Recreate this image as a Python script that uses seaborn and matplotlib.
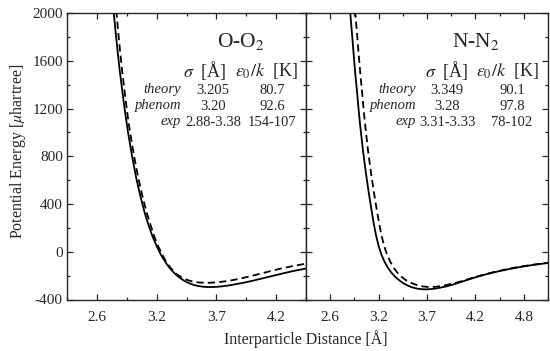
import numpy as np
import pandas as pd
import matplotlib
matplotlib.use("Agg")
import matplotlib.pyplot as plt
from matplotlib.ticker import FixedLocator, MultipleLocator
import seaborn as sns

# ---------------- data (x in Angstrom, energy in micro-hartree) ----------------
oo_solid_x = [2.738, 2.775, 2.794, 2.812, 2.830, 2.848, 2.867, 2.885, 2.903, 2.921,
              2.958, 2.994, 3.031, 3.067, 3.104, 3.140, 3.177, 3.213, 3.250, 3.286,
              3.323, 3.359, 3.396, 3.432, 3.469, 3.505, 3.542, 3.578, 3.615, 3.651,
              3.706, 3.761, 3.816, 3.870, 3.943, 4.016, 4.108, 4.199, 4.291, 4.382,
              4.491, 4.601]
oo_solid_y = [2619, 2200, 2013, 1836, 1672, 1518, 1376, 1244, 1120, 1004,
              798, 619, 466, 334, 221, 125, 44, -25, -83, -131,
              -171, -203, -229, -250, -266, -278, -287, -292, -295, -296,
              -294, -289, -282, -273, -260, -245, -224, -203, -182, -162,
              -142, -124]
oo_dash_x = [2.764, 2.800, 2.818, 2.835, 2.852, 2.869, 2.887, 2.904, 2.921, 2.939,
             2.976, 3.012, 3.049, 3.085, 3.122, 3.157, 3.192, 3.228, 3.262, 3.297,
             3.332, 3.368, 3.405, 3.442, 3.480, 3.518, 3.556, 3.595, 3.635, 3.680,
             3.730, 3.780, 3.835, 3.895, 3.960, 4.030, 4.110, 4.200, 4.290, 4.390,
             4.498, 4.600]
oo_dash_y = [2619, 2200, 2013, 1836, 1672, 1518, 1376, 1244, 1120, 1004,
             798, 619, 466, 334, 221, 120, 40, -30, -88, -133,
             -170, -198, -219, -235, -246, -254, -258, -260, -260, -258,
             -254, -248, -240, -229, -215, -199, -180, -158, -138, -118,
             -100, -84]

nn_solid_x = [2.796, 2.833, 2.852, 2.870, 2.889, 2.906, 2.923, 2.941, 2.956, 2.972,
              3.004, 3.036, 3.067, 3.096, 3.122, 3.148, 3.176, 3.207, 3.243, 3.282,
              3.322, 3.365, 3.408, 3.450, 3.493, 3.534, 3.575, 3.614, 3.652, 3.688,
              3.744, 3.799, 3.854, 3.910, 3.983, 4.057, 4.149, 4.242, 4.334, 4.426,
              4.537, 4.647, 4.758, 4.869, 5.016, 5.164]
nn_solid_y = [2787, 2341, 2142, 1954, 1780, 1616, 1465, 1324, 1192, 1068,
              849, 659, 496, 355, 235, 133, 46, -27, -89, -140,
              -182, -216, -244, -266, -283, -296, -305, -311, -314, -315,
              -313, -308, -300, -291, -276, -258, -235, -212, -192, -174,
              -155, -138, -123, -110, -95, -81]
nn_dash_x = [2.851, 2.888, 2.907, 2.925, 2.944, 2.961, 2.978, 2.996, 3.011, 3.027,
             3.059, 3.092, 3.124, 3.154, 3.181, 3.208, 3.236, 3.268, 3.303, 3.341,
             3.381, 3.424, 3.468, 3.513, 3.559, 3.606, 3.654, 3.703, 3.752, 3.800,
             3.850, 3.910, 3.983, 4.057, 4.149, 4.242, 4.334, 4.426, 4.537, 4.647,
             4.758, 4.869, 5.016, 5.164]
nn_dash_y = [2787, 2341, 2142, 1954, 1780, 1616, 1465, 1324, 1192, 1068,
             849, 659, 496, 355, 235, 133, 46, -25, -85, -135,
             -176, -209, -235, -255, -270, -282, -290, -294, -295, -293,
             -288, -280, -267, -252, -231, -209, -190, -172, -153, -136,
             -121, -108, -93, -80]

# ticks at integer (major) and half-integer (minor) bohr, labelled in Angstrom
left_tick_pos = [2.646, 3.175, 3.704, 4.233]
left_tick_lab = ["2.6", "3.2", "3.7", "4.2"]
left_minor = [2.381, 2.910, 3.440, 3.969, 4.498]
right_tick_pos = [2.646, 3.175, 3.704, 4.233, 4.763]
right_tick_lab = ["2.6", "3.2", "3.7", "4.2", "4.8"]
right_minor = [2.381, 2.910, 3.440, 3.969, 4.498, 5.027]
left_xlim = (2.381, 4.498)
right_xlim = (2.381, 5.027)

row_labels = ["theory", "phenom", "exp"]
oo_sigma = ["3.205", "3.20", "2.88-3.38"]
oo_eps = ["80.7", "92.6", "154-107"]
nn_sigma = ["3.349", "3.28", "3.31-3.33"]
nn_eps = ["90.1", "97.8", "78-102"]

# ---------------- style ----------------
sns.set_style("ticks")
plt.rcParams["font.family"] = ["Liberation Serif", "DejaVu Serif"]
plt.rcParams["mathtext.fontset"] = "stix"
plt.rcParams["axes.unicode_minus"] = False
plt.rcParams["xtick.direction"] = "in"
plt.rcParams["ytick.direction"] = "in"

fig = plt.figure(figsize=(5.5, 3.51), dpi=100)
W, H = 550, 351
ax1 = fig.add_axes([67 / W, 1 - 299.5 / H, 239 / W, 286.5 / H])
ax2 = fig.add_axes([306 / W, 1 - 299.5 / H, 242 / W, 286.5 / H])

dash = (0, (4.0, 2.3))

def draw(ax, sx, sy, dx, dy):
    sns.lineplot(x=sx, y=sy, ax=ax, color="black", lw=1.3, estimator=None, sort=False)
    sns.lineplot(x=dx, y=dy, ax=ax, color="black", lw=1.3, estimator=None, sort=False,
                 linestyle=dash)

draw(ax1, oo_solid_x, oo_solid_y, oo_dash_x, oo_dash_y)
draw(ax2, nn_solid_x, nn_solid_y, nn_dash_x, nn_dash_y)

for ax, xl, tp, tl, mn in [(ax1, left_xlim, left_tick_pos, left_tick_lab, left_minor),
                           (ax2, right_xlim, right_tick_pos, right_tick_lab, right_minor)]:
    ax.set_xlim(*xl)
    ax.set_ylim(-400, 2000)
    ax.xaxis.set_major_locator(FixedLocator(tp))
    ax.set_xticklabels(tl)
    ax.xaxis.set_minor_locator(FixedLocator(mn))
    ax.yaxis.set_major_locator(MultipleLocator(400))
    ax.yaxis.set_minor_locator(MultipleLocator(200))
    ax.tick_params(which="both", top=True, right=True, bottom=True, left=True,
                   direction="in", width=0.9, labelsize=11)
    ax.tick_params(axis="x", which="both", pad=8)
    ax.tick_params(axis="y", which="both", pad=3)
    ax.tick_params(which="major", length=4.5)
    ax.tick_params(which="minor", length=2.5)
    ax.set_xlabel("")
    ax.set_ylabel("")
    for s in ax.spines.values():
        s.set_linewidth(1.0)
        s.set_visible(True)

ax2.tick_params(labelleft=False)

def at(px, py, s, **kw):
    fig.text(px / W, 1 - py / H, s, **kw)

at(18, 151, r"Potential Energy [$\mu$hartree]", rotation=90, ha="center", va="center",
   fontsize=11.5)
at(306, 339, "Interparticle Distance [Å]", ha="center", va="center", fontsize=11.5)

def table(title, tx, hx1, hx2, lx, cx1, cx2, sig, eps):
    at(tx, 42, title, ha="center", va="center", fontsize=15.5)
    at(hx1, 71, r"$\sigma$  [Å]", ha="center", va="center", fontsize=13)
    at(hx2, 71, r"$\varepsilon_0/k$  [K]", ha="center", va="center", fontsize=13)
    for i, (lab, s, e) in enumerate(zip(row_labels, sig, eps)):
        y = 90 + i * 16
        at(lx, y, lab, ha="right", va="center", fontsize=10.5, style="italic")
        at(cx1, y, s, ha="center", va="center", fontsize=10.5)
        at(cx2, y, e, ha="center", va="center", fontsize=10.5)

table(r"O-O$_2$", 241, 205, 266, 181, 213, 272, oo_sigma, oo_eps)
table(r"N-N$_2$", 476, 447, 507, 416, 447, 512, nn_sigma, nn_eps)

fig.savefig("out.png", dpi=100)
